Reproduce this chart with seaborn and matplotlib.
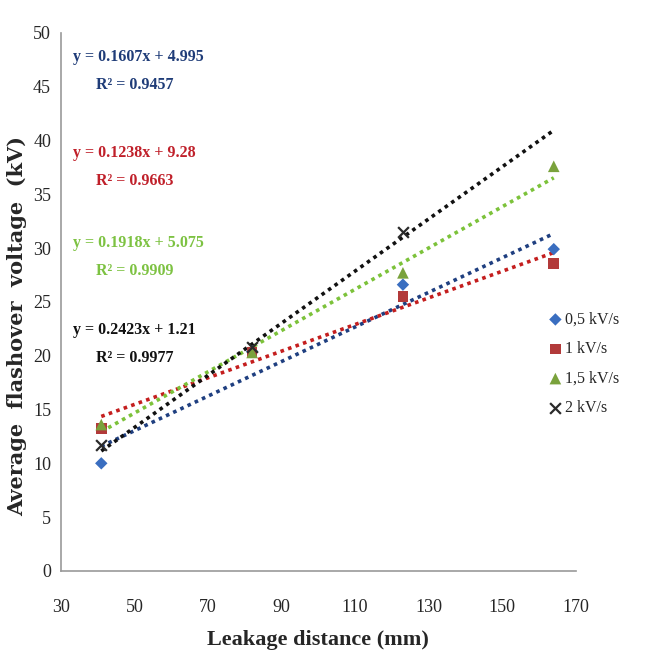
import matplotlib
matplotlib.use("Agg")
import matplotlib.pyplot as plt
import seaborn as sns
import pandas as pd
import numpy as np

sns.set_style("white")
plt.rcParams['font.family'] = ['Liberation Serif', 'DejaVu Serif']

# Data
leakage_mm = [41, 82, 123, 164]
series_names = ["0,5 kV/s", "1 kV/s", "1,5 kV/s", "2 kV/s"]
v_05 = [10.0, 20.4, 26.6, 29.9]
v_1 = [13.2, 20.3, 25.5, 28.6]
v_15 = [13.6, 20.3, 27.7, 37.6]
v_2 = [11.7, 20.8, 31.5, np.nan]   # no measured point at 164 mm
slopes = [0.1607, 0.1238, 0.1918, 0.2423]
intercepts = [4.995, 9.28, 5.075, 1.21]
eq_texts = ["y = 0.1607x + 4.995", "y = 0.1238x + 9.28", "y = 0.1918x + 5.075", "y = 0.2423x + 1.21"]
r2_texts = ["R² = 0.9457", "R² = 0.9663", "R² = 0.9909", "R² = 0.9977"]

marker_colors = ["#3A6EC0", "#B23A3A", "#7AA23C", "#2a2a2a"]
line_colors = ["#1F3F80", "#C41E1E", "#7CC23A", "#111111"]
text_colors = ["#1F3C78", "#C0202A", "#7DC242", "#111111"]
markers = ["D", "s", "^", "x"]
msizes = [40, 60, 70, 60]

df = pd.DataFrame({
    "x": leakage_mm * 4,
    "y": v_05 + v_1 + v_15 + v_2,
    "series": sum([[n] * 4 for n in series_names], []),
})

fig = plt.figure(figsize=(6.47, 6.57), dpi=100)
ax = fig.add_axes([0.094, 0.131, 0.796, 0.819])

# trendlines (over the full distance range, as in the source chart)
for i, name in enumerate(series_names):
    xs = [min(leakage_mm), max(leakage_mm)]
    ys = [slopes[i] * xv + intercepts[i] for xv in xs]
    sns.lineplot(x=xs, y=ys, ax=ax, color=line_colors[i], linestyle=(0, (1, 1.2)),
                 linewidth=2.6, legend=False)

for i, name in enumerate(series_names):
    sub = df[(df.series == name) & df.y.notna()]
    kw = dict(edgecolor="none") if markers[i] != "x" else dict(linewidth=1.6)
    sns.scatterplot(data=sub, x="x", y="y", ax=ax, marker=markers[i], color=marker_colors[i],
                    s=msizes[i], label=name, zorder=5, **kw)

ax.set_xlim(30, 170)
ax.set_ylim(0, 50)
ax.set_xticks(range(30, 171, 20))
ax.set_yticks(range(0, 51, 5))
for s in ["top", "right"]:
    ax.spines[s].set_visible(False)
for s in ["left", "bottom"]:
    ax.spines[s].set_color("#999999")
    ax.spines[s].set_linewidth(1.2)
ax.tick_params(axis="both", which="both", direction="out", length=5, color="#999999",
               labelsize=13, pad=15)
ax.tick_params(axis="y", length=0, pad=7)

ax.set_xlabel("Leakage distance (mm)", fontsize=16, fontweight="bold", labelpad=10)
ax.set_ylabel("Average  flashover  voltage  (kV)", fontsize=15, fontweight="bold",
              family="DejaVu Serif", va="center")
ax.yaxis.set_label_coords(-0.085, 0.455)

# equations
eq_y = [57, 153, 243, 330]
for i in range(4):
    fig.text(73 / 647, 1 - eq_y[i] / 657, eq_texts[i], color=text_colors[i], fontsize=11.5,
             fontweight="bold", va="center", ha="left")
    fig.text(96 / 647, 1 - (eq_y[i] + 28) / 657, r2_texts[i], color=text_colors[i], fontsize=11.5,
             fontweight="bold", va="center", ha="left")

leg = ax.legend(loc="center left", bbox_to_anchor=(541 / 647, 1 - 364 / 657),
                bbox_transform=fig.transFigure, frameon=False, fontsize=11.5,
                handletextpad=0.1, labelspacing=0.85, handlelength=1.0, borderaxespad=0)

fig.savefig("out.png", dpi=100)
